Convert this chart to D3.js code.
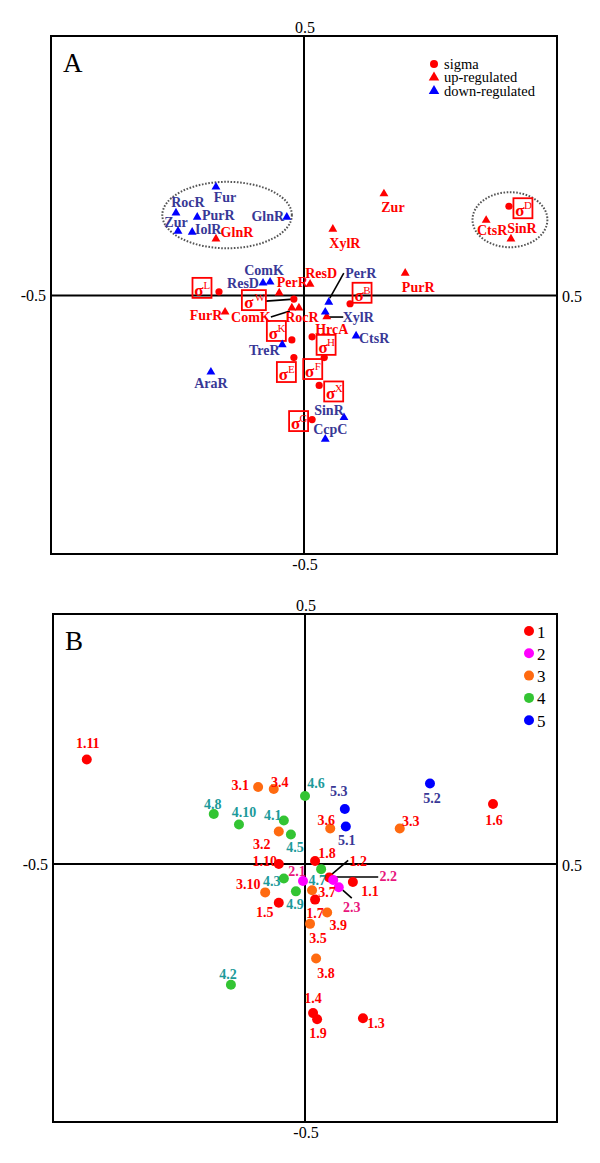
<!DOCTYPE html>
<html><head><meta charset="utf-8">
<script src="https://cdn.jsdelivr.net/npm/d3@7"></script>
<style>body{margin:0;background:#fff}svg{display:block}</style>
</head><body>
<svg id="c" width="600" height="1163"></svg>
<script>
// ---------- DATA: panel A ----------
const sigmaNames = ["D","L","W","B","K","H","E","F","X","G"];
const sigmaX = [0.405,-0.168,-0.020,0.091,-0.024,0.016,-0.020,0.040,0.030,0.016];
const sigmaY = [0.172,0.007,-0.007,-0.016,-0.086,-0.080,-0.120,-0.120,-0.174,-0.240];

const upNames = ["Zur","XylR","CtsR","SinR","PurR","GlnR","ResD","PerR","FurR","ComK","RocR","HrcA"];
const upX = [0.158,0.057,0.360,0.409,0.200,-0.174,0.012,-0.049,-0.156,-0.024,-0.010,0.045];
const upY = [0.196,0.128,0.145,0.109,0.043,0.109,0.022,0.005,-0.032,-0.024,-0.024,-0.041];

const downNames = ["Fur","RocR","PurR","Zur","IolR","GlnR","ComK","ResD","PerR","XylR","CtsR","TreR","AraR","SinR","CcpC"];
const downX = [-0.174,-0.253,-0.211,-0.249,-0.221,-0.034,-0.067,-0.081,0.049,0.042,0.103,-0.043,-0.184,0.079,0.042];
const downY = [0.209,0.159,0.151,0.124,0.122,0.151,0.026,0.024,-0.013,-0.032,-0.078,-0.095,-0.148,-0.236,-0.278];

const legendA = ["sigma","up-regulated","down-regulated"];
const tickTop = "0.5", tickBottom = "-0.5", tickLeft = "-0.5", tickRight = "0.5";

// cluster ellipses (data units: cx, cy, rx, ry)
const clusterCX = [-0.152, 0.407];
const clusterCY = [0.155, 0.146];
const clusterRX = [0.128, 0.074];
const clusterRY = [0.064, 0.053];

// ---------- DATA: panel B ----------
const groups = ["1","2","3","4","5"];
const ptLabels = ["1.1","1.2","1.3","1.4","1.5","1.6","1.7","1.8","1.9","1.10","1.11",
  "2.1","2.2","2.3",
  "3.1","3.2","3.3","3.4","3.5","3.6","3.7","3.8","3.9","3.10",
  "4.1","4.2","4.3","4.5","4.6","4.7","4.8","4.9","4.10",
  "5.1","5.2","5.3"];
const ptGroup = [1,1,1,1,1,1,1,1,1,1,1, 2,2,2, 3,3,3,3,3,3,3,3,3,3, 4,4,4,4,4,4,4,4,4, 5,5,5];
const ptX = [0.095,0.048,0.115,0.016,-0.052,0.373,0.020,0.020,0.024,-0.052,-0.433,
  -0.004,0.056,0.067,
  -0.093,-0.052,0.188,-0.062,0.010,0.050,0.014,0.022,0.044,-0.079,
  -0.042,-0.147,-0.042,-0.028,0.000,0.032,-0.181,-0.018,-0.131,
  0.081,0.248,0.079];
const ptY = [-0.035,-0.026,-0.299,-0.289,-0.075,0.120,-0.069,0.006,-0.301,0.000,0.209,
  -0.033,-0.031,-0.045,
  0.154,0.065,0.071,0.150,-0.116,0.071,-0.051,-0.183,-0.094,-0.055,
  0.087,-0.234,-0.028,0.059,0.136,-0.010,0.100,-0.053,0.079,
  0.075,0.161,0.110];

// ---------- LAYOUT / STYLE (not data) ----------
const RED = "#ff0000", BLUE = "#0000ff", LBLUE = "#383896";
const groupColor = ["#ff0000","#ff00ff","#ff6a10","#33c433","#0000ff"];
const groupText  = ["#ff0000","#e8167c","#ff0000","#1c9a9a","#383896"];
const FONT = "'Liberation Serif','Times New Roman',serif";

// label offsets (px) relative to the point
const offUp = {Zur:[9,14],XylR:[12,14],CtsR:[6,10],SinR:[11,-10],PurR:[13,14],GlnR:[21,-6],
  ResD:[11,-11],PerR:[13,-10],FurR:[-19,3],ComK:[-41,10],RocR:[3,10],HrcA:[5,13]};
const offDown = {Fur:[9,10],RocR:[12,-10],PurR:[21,-2],Zur:[-2,-9],IolR:[16,-3],GlnR:[-19,-1],
  ComK:[-6,-12],ResD:[-20,0],PerR:[32,-29],XylR:[33,5],CtsR:[18,3],TreR:[-18,6],AraR:[0,11],
  SinR:[-15,-7],CcpC:[5,-10]};
const offSigma = {D:[14,2],L:[-17,-4],W:[-40,1],B:[12,-11],K:[-15.5,-9],H:[14,8],E:[-7.5,14.5],
  F:[-11.5,11.5],X:[14.5,6],G:[-13.5,1.5]};
// connector lines: [x1,y1,x2,y2] relative to point
const connA = [
  {set:"up", name:"ComK", seg:[-21,9,-2,3]},
  {set:"down", name:"PerR", seg:[15,-29,1,-4]},
  {set:"down", name:"XylR", seg:[2,5,18,5]},
  {set:"sigma", name:"W", seg:[-28,2,0,0]}
];
const offB = {"1.1":[17,9],"1.2":[29,-16],"1.3":[13,5],"1.4":[0,-15],"1.5":[-14,10],"1.6":[1,16],
  "1.7":[0,14],"1.8":[12,-8],"1.9":[1,14],"1.10":[-14,-3],"1.11":[1,-16],
  "2.1":[-6,-10],"2.2":[55,-3],"2.3":[13,20],
  "3.1":[-18,-2],"3.2":[-17,13],"3.3":[11,-7],"3.4":[6,-7],"3.5":[8,15],"3.6":[-4,-8],"3.7":[15,2],
  "3.8":[10,15],"3.9":[11,13],"3.10":[-17,-8],
  "4.1":[-11,-5],"4.2":[-3,-10],"4.3":[-12,3],"4.5":[4,13],"4.6":[11,-13],"4.7":[-4,11],
  "4.8":[-1,-10],"4.9":[-1,13],"4.10":[5,-12],
  "5.1":[1,14],"5.2":[2,15],"5.3":[-6,-18]};
const connB = {"1.2":[-1,0,19,-17],"2.2":[0,-3,45,-3],"2.3":[4,3,13,11]};

const svg = d3.select("#c");

function frame(g, x, y, box, label){
  g.append("rect").attr("x",box.left).attr("y",box.top)
    .attr("width",box.right-box.left).attr("height",box.bottom-box.top)
    .attr("fill","none").attr("stroke","#000").attr("stroke-width",2);
  g.append("line").attr("x1",x(0)).attr("x2",x(0)).attr("y1",box.top).attr("y2",box.bottom)
    .attr("stroke","#000").attr("stroke-width",2);
  g.append("line").attr("x1",box.left).attr("x2",box.right).attr("y1",y(0)).attr("y2",y(0))
    .attr("stroke","#000").attr("stroke-width",2);
  const t = (tx,ty,s,anchor)=>g.append("text").attr("x",tx).attr("y",ty).text(s)
    .attr("font-family",FONT).attr("font-size",16).attr("text-anchor",anchor)
    .attr("dominant-baseline","central");
  t(x(0)+1, box.top-9, tickTop, "middle");
  t(x(0)+1, box.bottom+10, tickBottom, "middle");
  t(box.left-5, y(0), tickLeft, "end");
  t(box.right+5, y(0)+1, tickRight, "start");
  g.append("text").attr("x",box.left+12).attr("y",box.top+36).text(label)
    .attr("font-family",FONT).attr("font-size",27);
}

// ---------- PANEL A ----------
const A = {left:51,right:557,top:36,bottom:554};
const xA = d3.scaleLinear().domain([-0.5,0.5]).range([A.left,A.right]);
const yA = d3.scaleLinear().domain([-0.5,0,0.5]).range([A.bottom,295.5,A.top]);
const gA = svg.append("g");
frame(gA, xA, yA, A, "A");

// ellipses
gA.selectAll("ellipse").data(clusterCX).join("ellipse")
  .attr("cx",(d)=>xA(d)).attr("cy",(d,i)=>yA(clusterCY[i]))
  .attr("rx",(d,i)=>xA(clusterRX[i])-xA(0)).attr("ry",(d,i)=>yA(0)-yA(clusterRY[i]))
  .attr("fill","none").attr("stroke","#555").attr("stroke-width",2).attr("stroke-dasharray","1.6,1.6");

const tri = d3.symbol().type(d3.symbolTriangle).size(34);
const upData = upNames.map((n,i)=>({n,x:upX[i],y:upY[i]}));
const downData = downNames.map((n,i)=>({n,x:downX[i],y:downY[i]}));
const sigData = sigmaNames.map((n,i)=>({n,x:sigmaX[i],y:sigmaY[i]}));

// connectors
connA.forEach(c=>{
  const arr = c.set==="up"?upData:c.set==="down"?downData:sigData;
  const d = arr.find(e=>e.n===c.name);
  const px = xA(d.x), py = yA(d.y);
  gA.append("line").attr("x1",px+c.seg[0]).attr("y1",py+c.seg[1]).attr("x2",px+c.seg[2]).attr("y2",py+c.seg[3])
    .attr("stroke","#000").attr("stroke-width",1.6);
});

// sigma
sigData.forEach(d=>{
  const px = xA(d.x), py = yA(d.y);
  gA.append("circle").attr("cx",px).attr("cy",py).attr("r",3.6).attr("fill",RED);
  const o = offSigma[d.n];
  const bx = px+o[0], by = py+o[1];
  const w = d.n==="W"?24:19, h = 20;
  gA.append("rect").attr("x",bx-w/2).attr("y",by-h/2).attr("width",w).attr("height",h)
    .attr("fill","none").attr("stroke",RED).attr("stroke-width",1.8);
  gA.append("text").attr("x",bx-(d.n==="W"?5:3)).attr("y",by+8).attr("text-anchor","middle")
    .attr("font-family",FONT).attr("font-weight","bold").attr("font-size",17).attr("fill",RED).text("σ");
  gA.append("text").attr("x",bx+(d.n==="W"?6:5)).attr("y",by+1).attr("text-anchor","middle")
    .attr("font-family",FONT).attr("font-size",11).attr("fill",RED).text(d.n);
});

function tris(data, color, off, tcol){
  gA.selectAll(null).data(data).join("path")
    .attr("d",tri).attr("fill",color)
    .attr("transform",d=>`translate(${xA(d.x)},${yA(d.y)})`);
  gA.selectAll(null).data(data).join("text")
    .attr("x",d=>xA(d.x)+off[d.n][0]).attr("y",d=>yA(d.y)+off[d.n][1])
    .attr("text-anchor","middle").attr("dominant-baseline","central")
    .attr("font-family",FONT).attr("font-weight","bold").attr("font-size",14).attr("fill",tcol)
    .text(d=>d.n);
}
tris(upData, RED, offUp, RED);
tris(downData, BLUE, offDown, LBLUE);

// legend A
const lg = gA.append("g");
legendA.forEach((s,i)=>{
  const ly = 64 + i*13.5;
  if(i===0) lg.append("circle").attr("cx",434).attr("cy",ly).attr("r",4).attr("fill",RED);
  else lg.append("path").attr("d",d3.symbol().type(d3.symbolTriangle).size(48)())
        .attr("transform",`translate(434,${ly})`).attr("fill",i===1?RED:BLUE);
  lg.append("text").attr("x",444).attr("y",ly+4.5)
    .attr("font-family",FONT).attr("font-size",14.5).text(s);
});

// ---------- PANEL B ----------
const B = {left:53,right:557,top:614,bottom:1122};
const xB = d3.scaleLinear().domain([-0.5,0.5]).range([B.left,B.right]);
const yB = d3.scaleLinear().domain([-0.5,0,0.5]).range([B.bottom,864,B.top]);
const gB = svg.append("g");
frame(gB, xB, yB, B, "B");

const ptData = ptLabels.map((l,i)=>({l,g:ptGroup[i],x:ptX[i],y:ptY[i]}));
Object.keys(connB).forEach(k=>{
  const d = ptData.find(e=>e.l===k), s = connB[k];
  gB.append("line").attr("x1",xB(d.x)+s[0]).attr("y1",yB(d.y)+s[1]).attr("x2",xB(d.x)+s[2]).attr("y2",yB(d.y)+s[3])
    .attr("stroke","#000").attr("stroke-width",1.6);
});
gB.selectAll(null).data(ptData).join("circle")
  .attr("cx",d=>xB(d.x)).attr("cy",d=>yB(d.y)).attr("r",5)
  .attr("fill",d=>groupColor[d.g-1]);
gB.selectAll(null).data(ptData).join("text")
  .attr("x",d=>xB(d.x)+offB[d.l][0]).attr("y",d=>yB(d.y)+offB[d.l][1])
  .attr("text-anchor","middle").attr("dominant-baseline","central")
  .attr("font-family",FONT).attr("font-weight","bold").attr("font-size",14)
  .attr("fill",d=>groupText[d.g-1]).text(d=>d.l);

// legend B
groups.forEach((s,i)=>{
  const ly = 631 + i*22.3;
  gB.append("circle").attr("cx",529).attr("cy",ly).attr("r",5).attr("fill",groupColor[i]);
  gB.append("text").attr("x",537).attr("y",ly+1).attr("dominant-baseline","central")
    .attr("font-family",FONT).attr("font-size",17).text(s);
});
</script>
</body></html>
